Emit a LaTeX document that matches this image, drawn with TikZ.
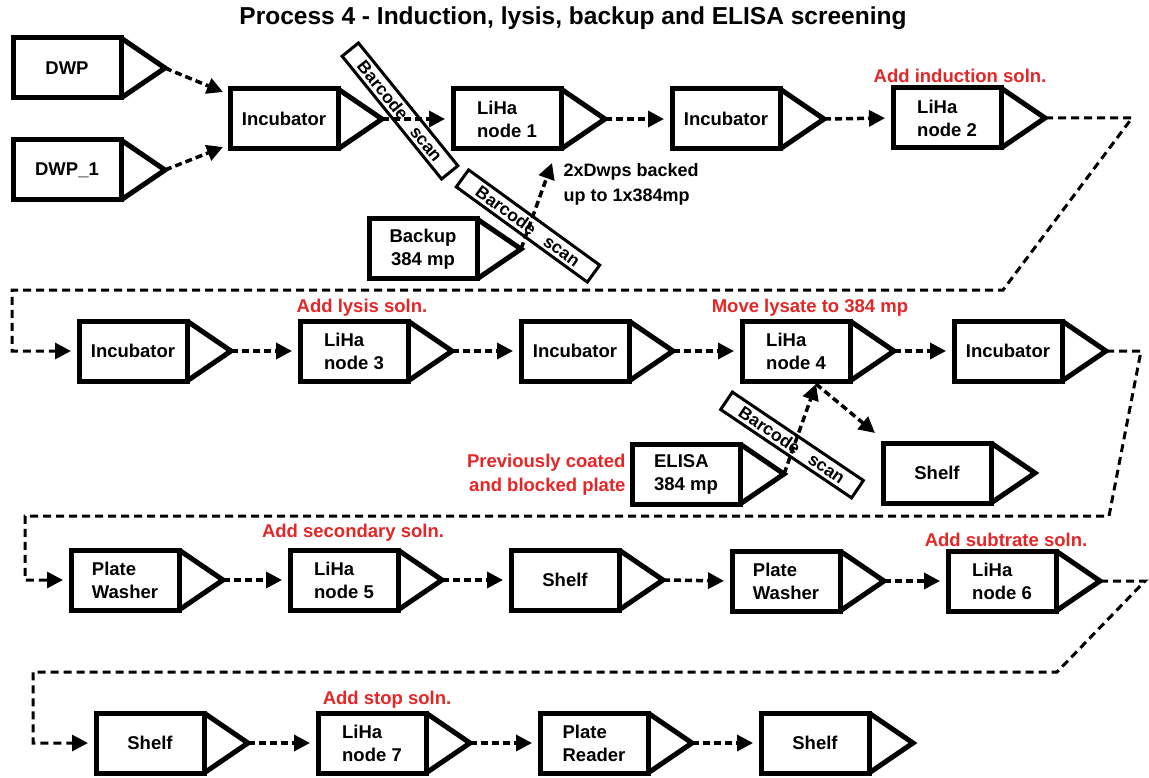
\documentclass[tikz,border=0pt]{standalone}
\usepackage{fontspec}
\setmainfont{Liberation Sans}
\usetikzlibrary{arrows.meta,calc}
\definecolor{notered}{RGB}{228,38,38}

\tikzset{
  stagebox/.style={draw, line width=5pt, minimum width=108pt, minimum height=60pt,
    inner sep=0pt, outer sep=0pt, align=left, line join=miter,
    font=\fontsize{18.5}{23}\selectfont\bfseries},
  stagetri/.style={line width=5pt, line join=miter},
  flow/.style={line width=3.5pt, dash pattern=on 7pt off 4pt,
    -{Triangle[length=16pt,width=16pt]}, shorten >=8pt},
  route/.style={line width=3pt, dash pattern=on 8pt off 5pt,
    -{Triangle[length=16pt,width=16pt]}, shorten >=8pt},
  scanbox/.style={draw, line width=3pt, minimum height=21pt, inner sep=0pt,
    fill=white, font=\fontsize{17.5}{17.5}\selectfont\bfseries},
  note/.style={text=notered, align=right, font=\fontsize{18.5}{24}\selectfont\bfseries},
  plain/.style={align=left, font=\fontsize{18}{25}\selectfont\bfseries},
}

% a process stage: box with a pointer on its right side
\newcommand\stage[3]{%
  \node[stagebox] (#1) at (#2) {#3};
  \draw[stagetri] (#1.north east) -- ($(#1.east)+(44,0)$) coordinate (#1-tip)
    -- (#1.south east);
}

\begin{document}
\begin{tikzpicture}[x=1pt,y=-1pt]
\useasboundingbox (0,0) rectangle (1149,778);

\node[font=\fontsize{24.5}{24.5}\selectfont\bfseries] (title) at (573,18)
  {Process 4 - Induction, lysis, backup and ELISA screening};

% row 1
\stage{dwp}{67,68}{DWP}
\stage{dwpb}{67,170}{DWP\_1}
\stage{incA}{284,119}{Incubator}
\stage{lihaA}{507,119}{LiHa\\node 1}
\stage{incB}{726,119}{Incubator}
\stage{lihaB}{947,118}{LiHa\\node 2}
\node[stagebox, align=center] (backup) at (423,249) {Backup\\384 mp};
\draw[stagetri] (backup.north east) -- ($(backup.east)+(44,0)$) coordinate (backup-tip)
  -- (backup.south east);

% row 2
\stage{incC}{133,351}{Incubator}
\stage{lihaC}{354,351}{LiHa\\node 3}
\stage{incD}{575,351}{Incubator}
\stage{lihaD}{796,351}{LiHa\\node 4}
\stage{incE}{1008,351}{Incubator}
\stage{elisa}{686,474}{ELISA\\384 mp}
\stage{shelfA}{937,473}{Shelf}

% row 3
\stage{washA}{125,580}{Plate\\Washer}
\stage{lihaE}{344,580}{LiHa\\node 5}
\stage{shelfB}{565,580}{Shelf}
\stage{washB}{786,581}{Plate\\Washer}
\stage{lihaF}{1002,581}{LiHa\\node 6}

% row 4
\stage{shelfC}{150,743}{Shelf}
\stage{lihaG}{372,743}{LiHa\\node 7}
\stage{reader}{594,743}{Plate\\Reader}
\stage{shelfD}{815,743}{Shelf}

% barcode scanners (the gap between the words lets the transfer arrow pass)
\node[scanbox, minimum width=158pt, rotate=-51] (scanA) at (400,111)
  {Barcode\hspace{14pt}scan\hspace{8pt}};
\node[scanbox, minimum width=162pt, rotate=-36] (scanB) at (528,226)
  {Barcode\hspace{14pt}scan\hspace{24pt}};
\node[scanbox, minimum width=158pt, rotate=-34] (scanC) at (792,445)
  {Barcode\hspace{14pt}scan\hspace{24pt}};

% notes
\node[note] (nInd) at (960,76) {Add induction soln.};
\node[note] (nLys) at (362,308) {Add lysis soln.};
\node[note] (nMove) at (810,308) {Move lysate to 384 mp};
\node[note, anchor=east] (nCoat) at (629,475) {Previously coated\\and blocked plate};
\node[note] (nSec) at (353,533) {Add secondary soln.};
\node[note] (nSub) at (1006,540) {Add subtrate soln.};
\node[note] (nStop) at (387,700) {Add stop soln.};
\node[plain, anchor=west] (nDwps) at (560,184) {2xDwps backed\\up to 1x384mp};

% free ends
\coordinate (dwpsEnd) at (552,163);
\coordinate (scanD) at ($(lihaD.south)+(20,3)$);

% row 1 connectors
\draw[flow, shorten >=0pt] (dwp-tip) -- ([shift={(-7,3)}]incA.north west);
\draw[flow, shorten >=0pt] (dwpb-tip) -- ([shift={(-7,-2)}]incA.south west);
\draw[flow] (incA-tip) -- (lihaA.west);
\draw[flow] (lihaA-tip) -- (incB.west);
\draw[flow] (incB-tip) -- (lihaB.west);
\draw[flow, shorten >=0pt] (backup-tip) -- (dwpsEnd);
\draw[route] (lihaB-tip) -- (1132,118) -- (1003,290) -- (12,290) -- (12,351) -- (incC.west);

% row 2 connectors
\draw[flow] (incC-tip) -- (lihaC.west);
\draw[flow] (lihaC-tip) -- (incD.west);
\draw[flow] (incD-tip) -- (lihaD.west);
\draw[flow] (lihaD-tip) -- (incE.west);
\draw[flow, shorten >=0pt] (elisa-tip) -- (scanD);
\draw[flow, shorten >=0pt] (scanD) -- ([shift={(-8,-10)}]shelfA.north west);
\draw[route] (incE-tip) -- (1141,351) -- (1109,516) -- (25,516) -- (25,580) -- (washA.west);

% row 3 connectors
\draw[flow] (washA-tip) -- (lihaE.west);
\draw[flow] (lihaE-tip) -- (shelfB.west);
\draw[flow] (shelfB-tip) -- (washB.west);
\draw[flow] (washB-tip) -- (lihaF.west);
\draw[route] (lihaF-tip) -- (1145,581) -- (1057,672) -- (33,672) -- (33,743) -- (shelfC.west);

% row 4 connectors
\draw[flow] (shelfC-tip) -- (lihaG.west);
\draw[flow] (lihaG-tip) -- (reader.west);
\draw[flow] (reader-tip) -- (shelfD.west);
\end{tikzpicture}
\end{document}
